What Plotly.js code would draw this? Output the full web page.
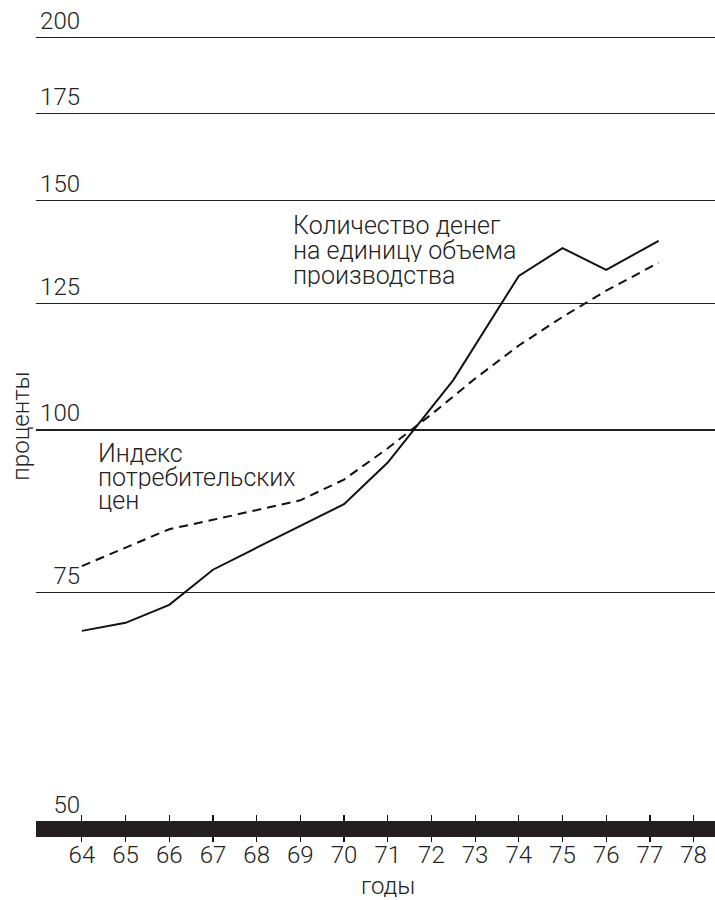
<!DOCTYPE html>
<html>
<head>
<meta charset="utf-8">
<script src="https://cdn.plot.ly/plotly-3.0.1.min.js"></script>
<style>html,body{margin:0;padding:0;background:#fff;}#chart{width:715px;height:900px;}</style>
</head>
<body>
<div id="chart"></div>
<script>
// ---- data ----
var yearsMoney = [64, 65, 66, 67, 68, 69, 70, 71, 72.5, 74, 75, 76, 77.2];
var moneyPerOutput = [70.1, 71.1, 73.4, 78.1, 81.2, 84.4, 87.7, 94.4, 109.2, 131.3, 137.9, 132.7, 139.7];
var yearsCPI = [64, 65, 66, 67, 68, 69, 70, 71, 72, 73, 74, 75, 76, 77.2];
var cpi = [78.6, 81.2, 83.9, 85.3, 86.8, 88.3, 91.6, 96.8, 102.8, 109.5, 116.1, 122.1, 127.9, 134.4];
var xTickVals = [64, 65, 66, 67, 68, 69, 70, 71, 72, 73, 74, 75, 76, 77, 78];
var xTickText = ["64","65","66","67","68","69","70","71","72","73","74","75","76","77","78"];
var yTickVals = [50, 75, 100, 125, 150, 175, 200];
var yTickText = ["50","75","100","125","150","175","200"];
var labelMoney = ["Количество денег", "на единицу объема", "производства"];
var labelCPI = ["Индекс", "потребительских", "цен"];
var yTitle = "проценты";
var xTitle = "годы";

var FONT = {family: "Roboto, 'Liberation Sans', sans-serif", size: 24, color: "#222", weight: 300};
var AFONT = {family: "Roboto, 'Liberation Sans', sans-serif", size: 25, color: "#222", weight: 300};
var xRange = [62.95, 78.49];
var yRange = [Math.log10(50), Math.log10(50) + 792 / 1302.5];

var traces = [
  {x: yearsMoney, y: moneyPerOutput, xaxis: "x2", yaxis: "y", mode: "lines",
   line: {color: "#111", width: 2}, hoverinfo: "skip", showlegend: false},
  {x: yearsCPI, y: cpi, xaxis: "x", yaxis: "y", mode: "lines",
   line: {color: "#111", width: 2, dash: "9px,6px"}, hoverinfo: "skip", showlegend: false}
];

var annotations = [];
var aY = [0.7534, 0.7218, 0.6903];
labelMoney.forEach(function (t, i) {
  annotations.push({text: t, xref: "paper", yref: "paper", x: 0.376, y: aY[i],
    xanchor: "left", yanchor: "middle", height: 24, showarrow: false, font: AFONT});
});
var bY = [0.4663, 0.4356, 0.4062];
labelCPI.forEach(function (t, i) {
  annotations.push({text: t, xref: "paper", yref: "paper", x: 0.089, y: bY[i],
    xanchor: "left", yanchor: "middle", height: 24, showarrow: false, font: AFONT});
});
annotations.push({text: xTitle, xref: "paper", yref: "paper", x: (388 - 36) / 679, y: -0.081,
  xanchor: "center", yanchor: "middle", height: 22, showarrow: false, font: FONT});

var layout = {
  width: 715, height: 900,
  margin: {l: 36, r: 0, t: 30, b: 78},
  paper_bgcolor: "#fff", plot_bgcolor: "#fff",
  font: FONT,
  showlegend: false,
  xaxis: {range: xRange, tickvals: xTickVals, ticktext: xTickText, ticks: "inside",
    ticklen: 7, tickwidth: 1.2, tickcolor: "#111", showgrid: false, zeroline: false,
    showline: false, tickfont: FONT, ticklabelstandoff: 16, fixedrange: true},
  xaxis2: {overlaying: "x", anchor: "y", side: "bottom", range: xRange, tickvals: xTickVals,
    ticks: "outside", ticklen: 19, tickwidth: 1.2, tickcolor: "#111", showticklabels: false,
    showgrid: false, zeroline: false, showline: false, fixedrange: true},
  yaxis: {type: "log", range: yRange, anchor: "free", position: (80 - 36) / 679,
    tickvals: yTickVals, ticktext: yTickText, ticks: "", tickfont: FONT,
    ticklabelshift: -17,
    showgrid: true, gridcolor: "#222", gridwidth: 1.3, zeroline: false, showline: false,
    title: {text: yTitle, font: FONT, standoff: 2}, fixedrange: true},
  shapes: [{type: "rect", xref: "paper", yref: "paper", x0: 0, x1: 1,
    y0: -15 / 792, y1: 1 / 792, fillcolor: "#231f20", line: {width: 0}, layer: "above"}],
  annotations: annotations
};

Plotly.newPlot("chart", traces, layout, {displayModeBar: false, staticPlot: true});
</script>
</body>
</html>
